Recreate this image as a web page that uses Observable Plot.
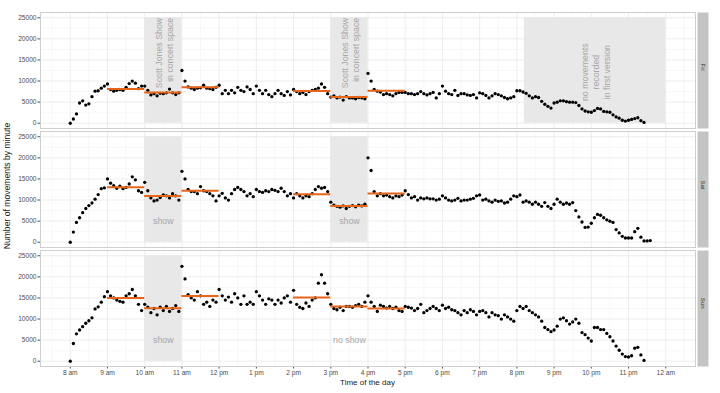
<!DOCTYPE html>
<html>
<head>
<meta charset="utf-8">
<script src="https://cdn.jsdelivr.net/npm/d3@7"></script>
<script src="https://cdn.jsdelivr.net/npm/@observablehq/plot@0.6"></script>
<style>
  html, body { margin: 0; padding: 0; background: #fff; }
</style>
</head>
<body>
<div id="chart"></div>
<script>
// ---- data (values per 5 minutes, starting 8:00 am) ----
const days = ["Fri", "Sat", "Sun"];

const friValues = [
  0,1000,2200,4800,5300,4300,4600,6300,7600,7700,8300,8800,
  9300,8000,7600,7800,8000,7800,8500,9400,10000,9500,8200,8800,
  8800,7800,6700,7000,6500,7100,7000,7200,8100,7200,6800,7200,
  12500,10000,8600,8300,8000,8300,8400,9000,8300,8200,8000,8500,
  9000,7000,7800,7000,7800,7200,8500,7800,7500,8600,8000,7000,
  8800,7800,7000,7800,6800,6300,7000,7800,7000,6600,7500,6700,
  8000,7500,7000,7300,6800,7500,7800,8000,8300,9300,8500,7000,
  6200,6500,6000,6200,5500,6300,6000,6000,5800,6100,6000,5800,
  11800,10000,8000,7600,7400,6800,7000,6800,6500,7000,7300,7300,
  7300,7000,7000,6800,7000,7500,7000,6700,7000,7300,6000,7000,
  8800,7600,7000,6800,7800,6600,7000,7000,6700,6600,6800,6000,
  7200,7000,6600,6000,6500,7000,6800,6500,6100,5800,6000,6300,
  7700,7700,7400,7100,6500,6000,6300,6100,5200,4500,4000,3600,
  4800,5000,5300,5300,5100,5000,5000,4900,4200,3400,2900,2700,
  2600,3000,3500,3400,2800,2700,2600,2000,1500,1200,700,500,
  700,900,1100,1300,600,200
];

const satValues = [
  0,2400,4700,5800,7000,8000,8700,9300,10200,11300,12700,12900,
  15000,14000,13400,12800,13300,12700,13000,13800,15500,14800,12200,11800,
  14200,12200,10500,9800,10000,10600,11200,11000,10500,11500,11000,10000,
  16800,15000,12500,12000,12000,11500,13200,12200,12000,11500,11000,9800,
  11000,11600,10500,10000,11500,12500,13000,12500,12000,11000,11500,10800,
  12500,12000,11800,12200,12000,12500,12300,12000,12800,12000,11000,11500,
  10500,11500,11000,10500,11000,10800,11500,12500,13200,12800,13000,12000,
  9500,8800,8500,8300,8600,8000,8500,8700,8400,8800,8600,9000,
  20000,17000,12000,11000,11500,11000,11200,10800,10500,11000,10800,11200,
  12200,11300,10500,10800,10000,10500,10300,10500,10300,10300,10000,10200,
  11000,10500,10000,9800,10000,10400,9800,10000,10000,10200,10400,11000,
  11200,10000,10200,9800,9500,10000,9700,9800,9300,9500,10200,11000,
  10800,11200,9500,9800,9500,9000,9500,9000,8500,9400,8500,8000,
  9000,10200,9500,9000,9300,9000,9400,7500,6000,4800,3500,3600,
  4500,5800,6600,6400,5800,5300,5000,4700,3000,2200,1400,1000,
  1000,1000,2500,3300,1200,300,300,400
];

const sunValues = [
  0,4200,6500,7400,8200,9000,9600,10300,12400,12900,14000,15300,
  16500,15500,15000,14500,14200,14000,15500,16000,17000,15500,13500,12000,
  13500,12800,11500,12500,11000,12800,12000,13000,11800,12500,13200,11800,
  22500,19500,15800,15000,14500,16500,15500,13500,14000,13000,14500,14000,
  17000,15500,14500,15200,14000,16000,15000,13500,15500,13500,14000,13500,
  16500,15500,14500,13500,14800,14500,13500,14500,13800,15000,15500,14000,
  16800,13500,12800,12500,13800,13000,14500,15000,18500,20500,18500,16000,
  13500,12500,12200,12800,12000,13000,13000,12800,13200,13500,13000,14000,
  15500,14000,13000,11800,13300,13000,12600,13000,12500,12800,12000,11800,
  13000,12800,12600,12000,12500,13500,11500,12000,12500,13000,12500,12000,
  13300,12500,12800,12200,12000,11500,11000,12000,11500,12200,11800,11000,
  11800,12000,11500,10500,11500,11000,10800,10000,11000,10500,10000,9500,
  12000,13000,12500,13000,12000,11500,11000,10500,9500,8000,7500,7000,
  7400,8300,10000,10300,9600,8800,9300,10000,9000,6800,6300,5500,
  4800,8000,8000,7500,7500,6600,5800,4800,3600,2600,1700,1100,
  1000,1300,3100,3300,1500,200
];

// hourly means (orange segments): day, start hour, end hour, value
const meanDays   = ["Fri","Fri","Fri","Fri","Fri","Fri","Sat","Sat","Sat","Sat","Sat","Sat","Sun","Sun","Sun","Sun","Sun","Sun"];
const meanStart  = [9,10,11,14,15,16, 9,10,11,14,15,16, 9,10,11,14,15,16];
const meanEnd    = [10,11,12,15,16,17, 10,11,12,15,16,17, 10,11,12,15,16,17];
const meanValues = [8100,7300,8500,7650,6200,7700, 13050,10980,12180,11380,8600,11540, 14960,12580,15440,15120,12980,12500];

// shaded periods: day, start (hours), end (hours)
const shadeDays  = ["Fri","Fri","Fri","Sat","Sat","Sun"];
const shadeStart = [10,15,20.2,10,15,10];
const shadeEnd   = [11,16,24,11,16,11];

// annotations
const noteDays  = ["Fri","Fri","Fri","Sat","Sat","Sun","Sun"];
const noteHour  = [10.52,15.52,22.1,10.5,15.5,10.5,15.5];
const noteValue = [25000,25000,12100,5000,5000,5000,5000];
const noteText  = ["Scott Jones Show\nin concert space","Scott Jones Show\nin concert space","no movements\nrecorded\nin first version","show","show","show","no show"];
const noteKind  = ["vend","vend","vmid","h","h","h","h"];

const xTickHours = [8,9,10,11,12,13,14,15,16,17,18,19,20,21,22,23,24];
const yTicks = [0,5000,10000,15000,20000,25000];
const yMinor = [2500,7500,12500,17500,22500];

// ---- build tables ----
const T = (h) => new Date(2015, 5, 5, 0, Math.round(h * 60));
const seriesByDay = {Fri: friValues, Sat: satValues, Sun: sunValues};
const points = days.flatMap(d => seriesByDay[d].map((v, i) => ({day: d, time: new Date(2015, 5, 5, 8, 5 * i), value: v})));
const means = meanDays.map((d, i) => ({day: d, x1: T(meanStart[i]), x2: T(meanEnd[i]), value: meanValues[i]}));
const shades = shadeDays.map((d, i) => ({day: d, x1: T(shadeStart[i]), x2: T(shadeEnd[i]), y1: 0, y2: 25000}));
const notes = noteDays.map((d, i) => ({day: d, x: T(noteHour[i]), y: noteValue[i], text: noteText[i], kind: noteKind[i]}));
const xTicks = xTickHours.map(T);
const xMinor = xTickHours.map(h => T(h - 0.5)).concat([T(24.5)]);

const W = 720, H = 393, ML = 40, MR = 25, MT = 12, MB = 27;
const fmt = d => { const h = d.getHours(); const h12 = h % 12 === 0 ? 12 : h % 12; return `${h12} ${h < 12 ? "am" : "pm"}`; };
const annoColor = "#a6a6a6";

const chart = Plot.plot({
  width: W, height: H,
  marginLeft: ML, marginRight: MR, marginTop: MT, marginBottom: MB,
  style: {fontFamily: "'Liberation Sans', Arial, sans-serif", fontSize: "6.6px", color: "#4d4d4d", background: "#fff"},
  x: {type: "time", domain: [T(7.2), T(24.8)], ticks: xTicks, tickFormat: fmt, tickSize: 2.5, tickPadding: 1.5, label: null},
  y: {domain: [-1250, 26250], ticks: yTicks, tickFormat: "d", tickSize: 2.5, tickPadding: 1.5, label: null},
  fy: {domain: days, axis: null, paddingInner: 0.026, paddingOuter: 0, label: null},
  marks: [
    Plot.gridX(xMinor, {stroke: "#f3f3f3", strokeOpacity: 1, strokeWidth: 0.6}),
    Plot.gridY(yMinor, {stroke: "#f3f3f3", strokeOpacity: 1, strokeWidth: 0.6}),
    Plot.gridX(xTicks, {stroke: "#e9e9e9", strokeOpacity: 1, strokeWidth: 0.8}),
    Plot.gridY(yTicks, {stroke: "#e9e9e9", strokeOpacity: 1, strokeWidth: 0.8}),
    Plot.rect(shades, {fy: "day", x1: "x1", x2: "x2", y1: "y1", y2: "y2", fill: "#e8e8e8"}),
    Plot.frame({stroke: "#cfcfcf", strokeWidth: 1}),
    Plot.frame({fill: "#c4c4c4", stroke: null, insetLeft: (W - ML - MR) + 2, insetRight: -13}),
    Plot.text(days, {fy: d => d, text: d => d, frameAnchor: "right", dx: 7.5, rotate: 90, fill: "#333", fontSize: 6}),
    Plot.text(notes.filter(n => n.kind === "vend"), {fy: "day", x: "x", y: "y", text: "text", rotate: -90, textAnchor: "end", fill: annoColor, fontSize: 8.8, lineHeight: 1.25}),
    Plot.text(notes.filter(n => n.kind === "vmid"), {fy: "day", x: "x", y: "y", text: "text", rotate: -90, textAnchor: "middle", fill: annoColor, fontSize: 8.8, lineHeight: 1.25}),
    Plot.text(notes.filter(n => n.kind === "h"), {fy: "day", x: "x", y: "y", text: "text", textAnchor: "middle", fill: annoColor, fontSize: 8.8}),
    Plot.dot(points, {fy: "day", x: "time", y: "value", r: 1.65, fill: "#000"}),
    Plot.ruleY(means, {fy: "day", y: "value", x1: "x1", x2: "x2", stroke: "#e8641b", strokeWidth: 2})
  ]
});

const svg = d3.select(chart);
svg.append("text")
  .attr("transform", `translate(10,186) rotate(-90)`)
  .attr("text-anchor", "middle")
  .attr("fill", "#1a1a1a")
  .style("font-size", "8.6px")
  .text("Number of movements by minute");
svg.append("text")
  .attr("x", (ML + W - MR) / 2)
  .attr("y", H - 8)
  .attr("text-anchor", "middle")
  .attr("fill", "#1a1a1a")
  .style("font-size", "8px")
  .text("Time of the day");

document.getElementById("chart").appendChild(chart);
</script>
</body>
</html>
